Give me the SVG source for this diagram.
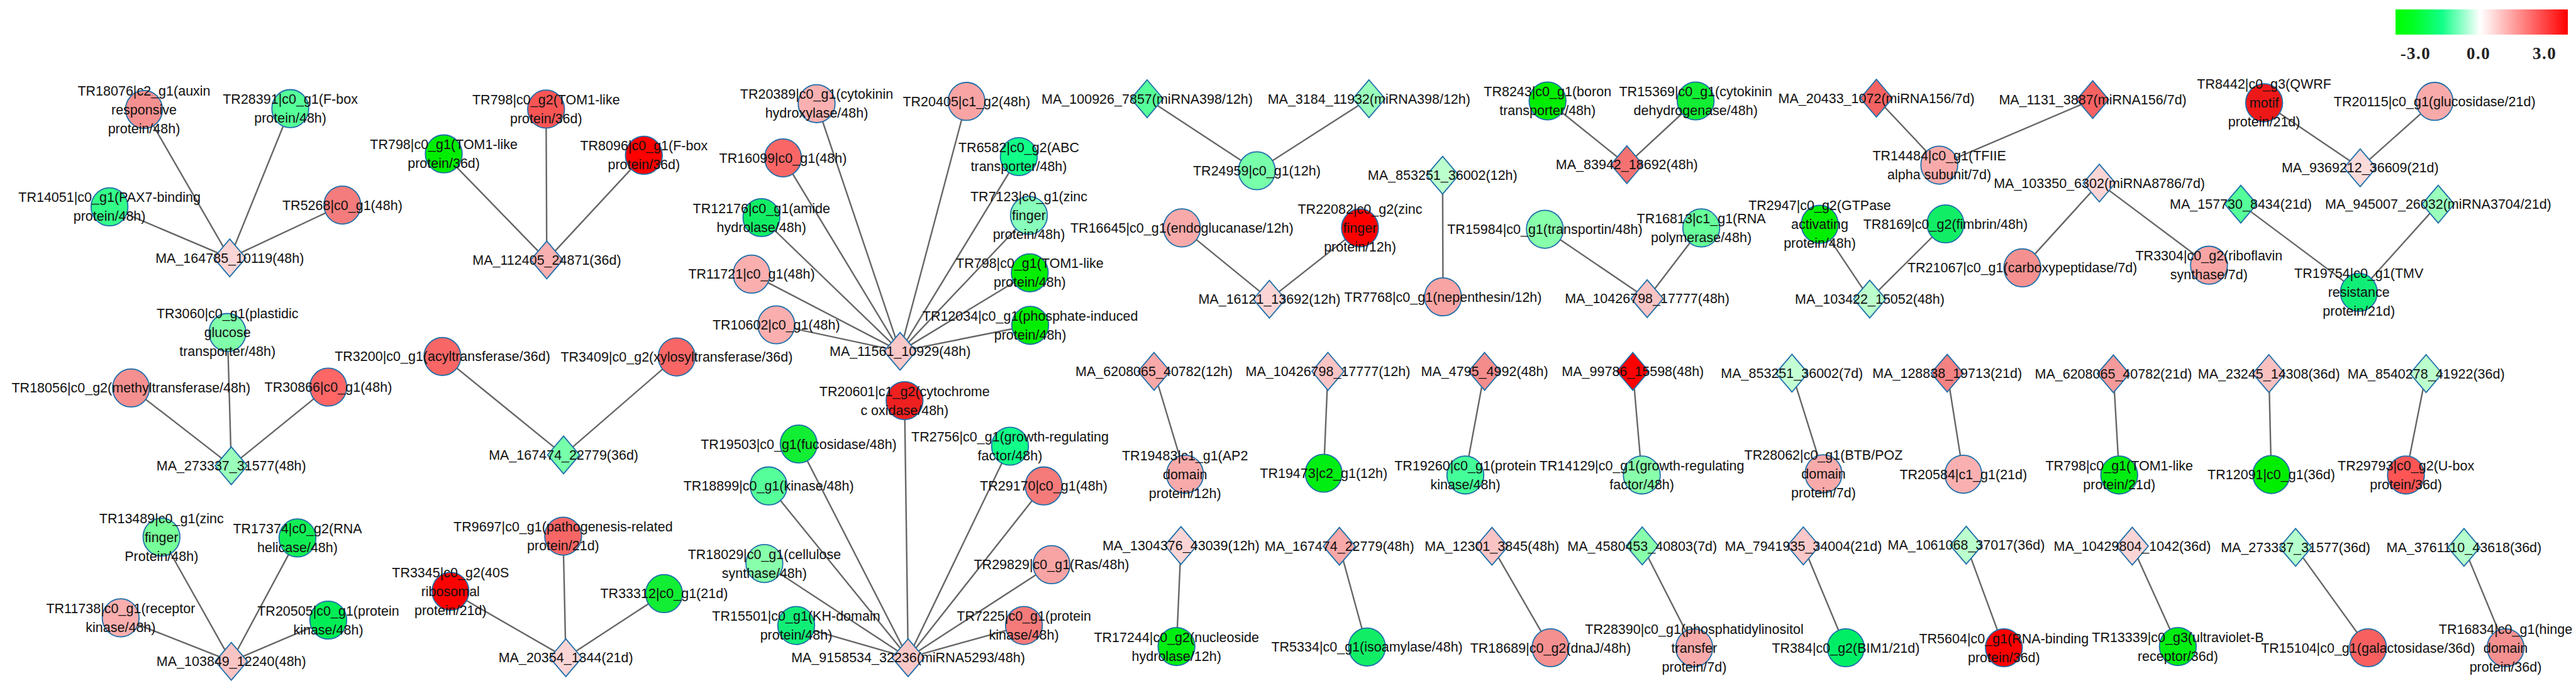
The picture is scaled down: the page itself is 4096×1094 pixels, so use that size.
<svg xmlns="http://www.w3.org/2000/svg" xmlns:xlink="http://www.w3.org/1999/xlink" width="4096" height="1094" viewBox="0 0 4096 1094">
<style>
.t{font-family:"Liberation Sans",Arial,sans-serif;font-size:21.5px;text-anchor:middle;fill:#111}
.e line{stroke:#666;stroke-width:2.4;stroke-linecap:round}
.lg{font-family:"Liberation Serif","Times New Roman",serif;font-weight:bold;font-size:27px;text-anchor:middle;fill:#222;letter-spacing:1.5px}
</style>
<defs>
<ellipse id="cir" cx="0" cy="0" rx="29.3" ry="30.2" stroke="#1E6FAA" stroke-width="1.8"/>
<path id="dia" d="M0,-30 L25.6,0 L0,30 L-25.6,0Z" stroke="#1E6FAA" stroke-width="1.8"/>
<linearGradient id="grad" x1="0" y1="0" x2="1" y2="0">
<stop offset="0" stop-color="#00FF00"/>
<stop offset="0.1" stop-color="#00FF22"/>
<stop offset="0.27" stop-color="#11FF88"/>
<stop offset="0.49" stop-color="#FFFFFF"/>
<stop offset="0.52" stop-color="#FFF2F2"/>
<stop offset="1" stop-color="#FF0000"/>
</linearGradient>
</defs>
<rect width="4096" height="1094" fill="#fff"/>
<g id="legend">
<rect x="3809" y="15" width="274" height="40" fill="url(#grad)"/>
<text class="lg" x="3841" y="94">-3.0</text>
<text class="lg" x="3941" y="94">0.0</text>
<text class="lg" x="4046" y="94">3.0</text>
</g>
<g id="edges" class="e">
<line x1="365.3" y1="410.2" x2="229.0" y2="174.1"/>
<line x1="365.3" y1="410.2" x2="461.6" y2="172.7"/>
<line x1="365.3" y1="410.2" x2="174.1" y2="328.9"/>
<line x1="365.3" y1="410.2" x2="544.4" y2="326.1"/>
<line x1="367.8" y1="740.6" x2="361.7" y2="528.7"/>
<line x1="367.8" y1="740.6" x2="208.3" y2="616.9"/>
<line x1="367.8" y1="740.6" x2="522.0" y2="615.5"/>
<line x1="367.8" y1="1051.6" x2="256.8" y2="854.0"/>
<line x1="367.8" y1="1051.6" x2="473.0" y2="855.4"/>
<line x1="367.8" y1="1051.6" x2="191.9" y2="982.4"/>
<line x1="367.8" y1="1051.6" x2="522.0" y2="986.0"/>
<line x1="869.4" y1="413.4" x2="705.6" y2="244.7"/>
<line x1="869.4" y1="413.4" x2="868.3" y2="173.4"/>
<line x1="869.4" y1="413.4" x2="1023.8" y2="246.9"/>
<line x1="896.1" y1="723.4" x2="703.5" y2="566.8"/>
<line x1="896.1" y1="723.4" x2="1075.9" y2="567.6"/>
<line x1="899.7" y1="1045.9" x2="895.4" y2="852.6"/>
<line x1="899.7" y1="1045.9" x2="716.3" y2="940.3"/>
<line x1="899.7" y1="1045.9" x2="1055.9" y2="943.9"/>
<line x1="1431.2" y1="558.6" x2="1298.5" y2="164.8"/>
<line x1="1431.2" y1="558.6" x2="1245.0" y2="251.1"/>
<line x1="1431.2" y1="558.6" x2="1210.7" y2="346.0"/>
<line x1="1431.2" y1="558.6" x2="1195.0" y2="435.9"/>
<line x1="1431.2" y1="558.6" x2="1234.3" y2="516.5"/>
<line x1="1431.2" y1="558.6" x2="1536.8" y2="161.2"/>
<line x1="1431.2" y1="558.6" x2="1620.0" y2="249.0"/>
<line x1="1431.2" y1="558.6" x2="1636.0" y2="342.5"/>
<line x1="1431.2" y1="558.6" x2="1637.4" y2="433.8"/>
<line x1="1431.2" y1="558.6" x2="1638.1" y2="517.3"/>
<line x1="1444.0" y1="1045.9" x2="1438.3" y2="637.1"/>
<line x1="1444.0" y1="1045.9" x2="1270.0" y2="706.0"/>
<line x1="1444.0" y1="1045.9" x2="1222.2" y2="772.7"/>
<line x1="1444.0" y1="1045.9" x2="1215.4" y2="896.1"/>
<line x1="1444.0" y1="1045.9" x2="1266.0" y2="994.6"/>
<line x1="1444.0" y1="1045.9" x2="1606.0" y2="709.5"/>
<line x1="1444.0" y1="1045.9" x2="1659.5" y2="772.7"/>
<line x1="1444.0" y1="1045.9" x2="1672.0" y2="897.9"/>
<line x1="1444.0" y1="1045.9" x2="1628.1" y2="994.6"/>
<line x1="1824.0" y1="157.0" x2="1998.4" y2="271.5"/>
<line x1="2176.8" y1="157.0" x2="1998.4" y2="271.5"/>
<line x1="2018.4" y1="475.9" x2="1879.3" y2="362.4"/>
<line x1="2018.4" y1="475.9" x2="2162.5" y2="362.4"/>
<line x1="2293.8" y1="278.6" x2="2294.5" y2="472.0"/>
<line x1="2586.8" y1="261.8" x2="2460.7" y2="160.5"/>
<line x1="2586.8" y1="261.8" x2="2696.2" y2="160.5"/>
<line x1="2619.1" y1="474.9" x2="2456.4" y2="364.6"/>
<line x1="2619.1" y1="474.9" x2="2705.1" y2="362.4"/>
<line x1="2983.6" y1="156.2" x2="3083.6" y2="262.6"/>
<line x1="3327.6" y1="158.4" x2="3083.6" y2="262.6"/>
<line x1="2973.0" y1="475.6" x2="2893.5" y2="356.7"/>
<line x1="2973.0" y1="475.6" x2="3093.4" y2="356.0"/>
<line x1="3338.1" y1="291.1" x2="3215.6" y2="425.9"/>
<line x1="3338.1" y1="291.1" x2="3512.4" y2="421.7"/>
<line x1="3752.8" y1="266.8" x2="3600.1" y2="163.4"/>
<line x1="3752.8" y1="266.8" x2="3871.2" y2="161.2"/>
<line x1="3563.0" y1="324.6" x2="3750.7" y2="464.9"/>
<line x1="3876.9" y1="324.6" x2="3750.7" y2="464.9"/>
<line x1="1835.0" y1="590.5" x2="1884.2" y2="754.1"/>
<line x1="2111.5" y1="590.5" x2="2104.7" y2="752.5"/>
<line x1="2360.6" y1="590.5" x2="2330.0" y2="755.3"/>
<line x1="2596.3" y1="590.5" x2="2610.6" y2="755.3"/>
<line x1="2849.3" y1="593.3" x2="2899.5" y2="753.4"/>
<line x1="3096.2" y1="593.3" x2="3121.8" y2="754.1"/>
<line x1="3360.4" y1="594.3" x2="3369.7" y2="755.3"/>
<line x1="3607.7" y1="594.0" x2="3611.5" y2="754.6"/>
<line x1="3857.7" y1="594.0" x2="3825.6" y2="755.3"/>
<line x1="1877.8" y1="867.3" x2="1870.7" y2="1028.1"/>
<line x1="2129.7" y1="868.7" x2="2173.6" y2="1028.8"/>
<line x1="2372.3" y1="868.7" x2="2465.4" y2="1030.0"/>
<line x1="2611.3" y1="868.0" x2="2694.0" y2="1030.0"/>
<line x1="2867.4" y1="868.0" x2="2934.9" y2="1030.0"/>
<line x1="3126.4" y1="866.9" x2="3186.3" y2="1030.0"/>
<line x1="3390.4" y1="868.3" x2="3462.9" y2="1028.1"/>
<line x1="3650.1" y1="870.4" x2="3765.3" y2="1030.0"/>
<line x1="3917.9" y1="870.4" x2="3984.0" y2="1030.0"/>
</g>
<g id="n1"><use href="#cir" x="229.0" y="174.1" fill="#F59090"/><text class="t" x="229.0" y="151.6">TR18076|c2_g1(auxin<tspan x="229.0" dy="30">responsive</tspan><tspan x="229.0" dy="30">protein/48h)</tspan></text></g>
<g id="n2"><use href="#cir" x="461.6" y="172.7" fill="#55FF99"/><text class="t" x="461.6" y="165.2">TR28391|c0_g1(F-box<tspan x="461.6" dy="30">protein/48h)</tspan></text></g>
<g id="n3"><use href="#cir" x="174.1" y="328.9" fill="#33FF88"/><text class="t" x="174.1" y="321.4">TR14051|c0_g1(PAX7-binding<tspan x="174.1" dy="30">protein/48h)</tspan></text></g>
<g id="n4"><use href="#cir" x="544.4" y="326.1" fill="#F47C7C"/><text class="t" x="544.4" y="333.6">TR5268|c0_g1(48h)</text></g>
<g id="n5"><use href="#dia" x="365.3" y="410.2" fill="#FBD5D5"/><text class="t" x="365.3" y="417.7">MA_164785_10119(48h)</text></g>
<g id="n6"><use href="#cir" x="361.7" y="528.7" fill="#80FFAA"/><text class="t" x="361.7" y="506.2">TR3060|c0_g1(plastidic<tspan x="361.7" dy="30">glucose</tspan><tspan x="361.7" dy="30">transporter/48h)</tspan></text></g>
<g id="n7"><use href="#cir" x="208.3" y="616.9" fill="#F59090"/><text class="t" x="208.3" y="624.4">TR18056|c0_g2(methyltransferase/48h)</text></g>
<g id="n8"><use href="#cir" x="522.0" y="615.5" fill="#FF6666"/><text class="t" x="522.0" y="623.0">TR30866|c0_g1(48h)</text></g>
<g id="n9"><use href="#dia" x="367.8" y="740.6" fill="#99FFBB"/><text class="t" x="367.8" y="748.1">MA_273337_31577(48h)</text></g>
<g id="n10"><use href="#cir" x="256.8" y="854.0" fill="#77FF99"/><text class="t" x="256.8" y="831.5">TR13489|c0_g1(zinc<tspan x="256.8" dy="30">finger</tspan><tspan x="256.8" dy="30">Protein/48h)</tspan></text></g>
<g id="n11"><use href="#cir" x="473.0" y="855.4" fill="#11EE55"/><text class="t" x="473.0" y="847.9">TR17374|c0_g2(RNA<tspan x="473.0" dy="30">helicase/48h)</tspan></text></g>
<g id="n12"><use href="#cir" x="191.9" y="982.4" fill="#FAAEAE"/><text class="t" x="191.9" y="974.9">TR11738|c0_g1(receptor<tspan x="191.9" dy="30">kinase/48h)</tspan></text></g>
<g id="n13"><use href="#cir" x="522.0" y="986.0" fill="#00EE55"/><text class="t" x="522.0" y="978.5">TR20505|c0_g1(protein<tspan x="522.0" dy="30">kinase/48h)</tspan></text></g>
<g id="n14"><use href="#dia" x="367.8" y="1051.6" fill="#FAC4C4"/><text class="t" x="367.8" y="1059.1">MA_103849_12240(48h)</text></g>
<g id="n15"><use href="#cir" x="705.6" y="244.7" fill="#00EE00"/><text class="t" x="705.6" y="237.2">TR798|c0_g1(TOM1-like<tspan x="705.6" dy="30">protein/36d)</tspan></text></g>
<g id="n16"><use href="#cir" x="868.3" y="173.4" fill="#FA5555"/><text class="t" x="868.3" y="165.9">TR798|c0_g2(TOM1-like<tspan x="868.3" dy="30">protein/36d)</tspan></text></g>
<g id="n17"><use href="#cir" x="1023.8" y="246.9" fill="#FF0000"/><text class="t" x="1023.8" y="239.4">TR8096|c0_g1(F-box<tspan x="1023.8" dy="30">protein/36d)</tspan></text></g>
<g id="n18"><use href="#dia" x="869.4" y="413.4" fill="#F9B0B0"/><text class="t" x="869.4" y="420.9">MA_112405_24871(36d)</text></g>
<g id="n19"><use href="#cir" x="703.5" y="566.8" fill="#F86666"/><text class="t" x="703.5" y="574.3">TR3200|c0_g1(acyltransferase/36d)</text></g>
<g id="n20"><use href="#cir" x="1075.9" y="567.6" fill="#F86666"/><text class="t" x="1075.9" y="575.1">TR3409|c0_g2(xylosyltransferase/36d)</text></g>
<g id="n21"><use href="#dia" x="896.1" y="723.4" fill="#77FFAA"/><text class="t" x="896.1" y="730.9">MA_167474_22779(36d)</text></g>
<g id="n22"><use href="#cir" x="895.4" y="852.6" fill="#F86666"/><text class="t" x="895.4" y="845.1">TR9697|c0_g1(pathogenesis-related<tspan x="895.4" dy="30">protein/21d)</tspan></text></g>
<g id="n23"><use href="#cir" x="716.3" y="940.3" fill="#FF0000"/><text class="t" x="716.3" y="917.8">TR3345|c0_g2(40S<tspan x="716.3" dy="30">ribosomal</tspan><tspan x="716.3" dy="30">protein/21d)</tspan></text></g>
<g id="n24"><use href="#cir" x="1055.9" y="943.9" fill="#11EE33"/><text class="t" x="1055.9" y="951.4">TR33312|c0_g1(21d)</text></g>
<g id="n25"><use href="#dia" x="899.7" y="1045.9" fill="#FBD5D5"/><text class="t" x="899.7" y="1053.4">MA_20354_1344(21d)</text></g>
<g id="n26"><use href="#cir" x="1298.5" y="164.8" fill="#FAB0B0"/><text class="t" x="1298.5" y="157.3">TR20389|c0_g1(cytokinin<tspan x="1298.5" dy="30">hydroxylase/48h)</tspan></text></g>
<g id="n27"><use href="#cir" x="1245.0" y="251.1" fill="#FA6666"/><text class="t" x="1245.0" y="258.6">TR16099|c0_g1(48h)</text></g>
<g id="n28"><use href="#cir" x="1210.7" y="346.0" fill="#11EE66"/><text class="t" x="1210.7" y="338.5">TR12176|c0_g1(amide<tspan x="1210.7" dy="30">hydrolase/48h)</tspan></text></g>
<g id="n29"><use href="#cir" x="1195.0" y="435.9" fill="#FAAEAE"/><text class="t" x="1195.0" y="443.4">TR11721|c0_g1(48h)</text></g>
<g id="n30"><use href="#cir" x="1234.3" y="516.5" fill="#FAAEAE"/><text class="t" x="1234.3" y="524.0">TR10602|c0_g1(48h)</text></g>
<g id="n31"><use href="#cir" x="1536.8" y="161.2" fill="#F8A4A4"/><text class="t" x="1536.8" y="168.7">TR20405|c1_g2(48h)</text></g>
<g id="n32"><use href="#cir" x="1620.0" y="249.0" fill="#11FF88"/><text class="t" x="1620.0" y="241.5">TR6582|c0_g2(ABC<tspan x="1620.0" dy="30">transporter/48h)</tspan></text></g>
<g id="n33"><use href="#cir" x="1636.0" y="342.5" fill="#88FFBB"/><text class="t" x="1636.0" y="320.0">TR7123|c0_g1(zinc<tspan x="1636.0" dy="30">finger</tspan><tspan x="1636.0" dy="30">protein/48h)</tspan></text></g>
<g id="n34"><use href="#cir" x="1637.4" y="433.8" fill="#00EE00"/><text class="t" x="1637.4" y="426.3">TR798|c0_g1(TOM1-like<tspan x="1637.4" dy="30">protein/48h)</tspan></text></g>
<g id="n35"><use href="#cir" x="1638.1" y="517.3" fill="#00EE00"/><text class="t" x="1638.1" y="509.8">TR12034|c0_g1(phosphate-induced<tspan x="1638.1" dy="30">protein/48h)</tspan></text></g>
<g id="n36"><use href="#dia" x="1431.2" y="558.6" fill="#FAC8C8"/><text class="t" x="1431.2" y="566.1">MA_11561_10929(48h)</text></g>
<g id="n37"><use href="#cir" x="1438.3" y="637.1" fill="#EE2020"/><text class="t" x="1438.3" y="629.6">TR20601|c1_g2(cytochrome<tspan x="1438.3" dy="30">c oxidase/48h)</tspan></text></g>
<g id="n38"><use href="#cir" x="1270.0" y="706.0" fill="#11EE33"/><text class="t" x="1270.0" y="713.5">TR19503|c0_g1(fucosidase/48h)</text></g>
<g id="n39"><use href="#cir" x="1222.2" y="772.7" fill="#55FF99"/><text class="t" x="1222.2" y="780.2">TR18899|c0_g1(kinase/48h)</text></g>
<g id="n40"><use href="#cir" x="1215.4" y="896.1" fill="#88FFAA"/><text class="t" x="1215.4" y="888.6">TR18029|c0_g1(cellulose<tspan x="1215.4" dy="30">synthase/48h)</tspan></text></g>
<g id="n41"><use href="#cir" x="1266.0" y="994.6" fill="#11EE77"/><text class="t" x="1266.0" y="987.1">TR15501|c0_g1(KH-domain<tspan x="1266.0" dy="30">protein/48h)</tspan></text></g>
<g id="n42"><use href="#cir" x="1606.0" y="709.5" fill="#11FF88"/><text class="t" x="1606.0" y="702.0">TR2756|c0_g1(growth-regulating<tspan x="1606.0" dy="30">factor/48h)</tspan></text></g>
<g id="n43"><use href="#cir" x="1659.5" y="772.7" fill="#F57A7A"/><text class="t" x="1659.5" y="780.2">TR29170|c0_g1(48h)</text></g>
<g id="n44"><use href="#cir" x="1672.0" y="897.9" fill="#F8A4A4"/><text class="t" x="1672.0" y="905.4">TR29829|c0_g1(Ras/48h)</text></g>
<g id="n45"><use href="#cir" x="1628.1" y="994.6" fill="#F57A7A"/><text class="t" x="1628.1" y="987.1">TR7225|c0_g1(protein<tspan x="1628.1" dy="30">kinase/48h)</tspan></text></g>
<g id="n46"><use href="#dia" x="1444.0" y="1045.9" fill="#FAC8C8"/><text class="t" x="1444.0" y="1053.4">MA_9158534_32236(miRNA5293/48h)</text></g>
<g id="n47"><use href="#dia" x="1824.0" y="157.0" fill="#55FF99"/><text class="t" x="1824.0" y="164.5">MA_100926_7857(miRNA398/12h)</text></g>
<g id="n48"><use href="#cir" x="1998.4" y="271.5" fill="#77FFAA"/><text class="t" x="1998.4" y="279.0">TR24959|c0_g1(12h)</text></g>
<g id="n49"><use href="#dia" x="2176.8" y="157.0" fill="#99FFBB"/><text class="t" x="2176.8" y="164.5">MA_3184_11932(miRNA398/12h)</text></g>
<g id="n50"><use href="#cir" x="1879.3" y="362.4" fill="#F8AAAA"/><text class="t" x="1879.3" y="369.9">TR16645|c0_g1(endoglucanase/12h)</text></g>
<g id="n51"><use href="#dia" x="2018.4" y="475.9" fill="#FBD5D5"/><text class="t" x="2018.4" y="483.4">MA_16121_13692(12h)</text></g>
<g id="n52"><use href="#cir" x="2162.5" y="362.4" fill="#FF0000"/><text class="t" x="2162.5" y="339.9">TR22082|c0_g2(zinc<tspan x="2162.5" dy="30">finger</tspan><tspan x="2162.5" dy="30">protein/12h)</tspan></text></g>
<g id="n53"><use href="#dia" x="2293.8" y="278.6" fill="#BBFFCC"/><text class="t" x="2293.8" y="286.1">MA_853251_36002(12h)</text></g>
<g id="n54"><use href="#cir" x="2294.5" y="472.0" fill="#F8A4A4"/><text class="t" x="2294.5" y="479.5">TR7768|c0_g1(nepenthesin/12h)</text></g>
<g id="n55"><use href="#cir" x="2460.7" y="160.5" fill="#00EE00"/><text class="t" x="2460.7" y="153.0">TR8243|c0_g1(boron<tspan x="2460.7" dy="30">transporter/48h)</tspan></text></g>
<g id="n56"><use href="#cir" x="2696.2" y="160.5" fill="#11EE33"/><text class="t" x="2696.2" y="153.0">TR15369|c0_g1(cytokinin<tspan x="2696.2" dy="30">dehydrogenase/48h)</tspan></text></g>
<g id="n57"><use href="#dia" x="2586.8" y="261.8" fill="#F47272"/><text class="t" x="2586.8" y="269.3">MA_83942_18692(48h)</text></g>
<g id="n58"><use href="#cir" x="2456.4" y="364.6" fill="#88FFAA"/><text class="t" x="2456.4" y="372.1">TR15984|c0_g1(transportin/48h)</text></g>
<g id="n59"><use href="#cir" x="2705.1" y="362.4" fill="#66FF99"/><text class="t" x="2705.1" y="354.9">TR16813|c1_g1(RNA<tspan x="2705.1" dy="30">polymerase/48h)</tspan></text></g>
<g id="n60"><use href="#dia" x="2619.1" y="474.9" fill="#FAC4C4"/><text class="t" x="2619.1" y="482.4">MA_10426798_17777(48h)</text></g>
<g id="n61"><use href="#dia" x="2983.6" y="156.2" fill="#F46262"/><text class="t" x="2983.6" y="163.7">MA_20433_1072(miRNA156/7d)</text></g>
<g id="n62"><use href="#dia" x="3327.6" y="158.4" fill="#F46262"/><text class="t" x="3327.6" y="165.9">MA_1131_3887(miRNA156/7d)</text></g>
<g id="n63"><use href="#cir" x="3083.6" y="262.6" fill="#F8AAAA"/><text class="t" x="3083.6" y="255.1">TR14484|c0_g1(TFIIE<tspan x="3083.6" dy="30">alpha subunit/7d)</tspan></text></g>
<g id="n64"><use href="#dia" x="3338.1" y="291.1" fill="#FBD5D5"/><text class="t" x="3338.1" y="298.6">MA_103350_6302(miRNA8786/7d)</text></g>
<g id="n65"><use href="#cir" x="2893.5" y="356.7" fill="#00EE00"/><text class="t" x="2893.5" y="334.2">TR2947|c0_g2(GTPase<tspan x="2893.5" dy="30">activating</tspan><tspan x="2893.5" dy="30">protein/48h)</tspan></text></g>
<g id="n66"><use href="#cir" x="3093.4" y="356.0" fill="#11EE66"/><text class="t" x="3093.4" y="363.5">TR8169|c0_g2(fimbrin/48h)</text></g>
<g id="n67"><use href="#dia" x="2973.0" y="475.6" fill="#BBFFCC"/><text class="t" x="2973.0" y="483.1">MA_103422_15052(48h)</text></g>
<g id="n68"><use href="#cir" x="3215.6" y="425.9" fill="#F49090"/><text class="t" x="3215.6" y="433.4">TR21067|c0_g1(carboxypeptidase/7d)</text></g>
<g id="n69"><use href="#cir" x="3600.1" y="163.4" fill="#EE1818"/><text class="t" x="3600.1" y="140.9">TR8442|c0_g3(QWRF<tspan x="3600.1" dy="30">motif</tspan><tspan x="3600.1" dy="30">protein/21d)</tspan></text></g>
<g id="n70"><use href="#cir" x="3871.2" y="161.2" fill="#F8AAAA"/><text class="t" x="3871.2" y="168.7">TR20115|c0_g1(glucosidase/21d)</text></g>
<g id="n71"><use href="#dia" x="3752.8" y="266.8" fill="#FBDADA"/><text class="t" x="3752.8" y="274.3">MA_9369212_36609(21d)</text></g>
<g id="n72"><use href="#dia" x="3563.0" y="324.6" fill="#55FF99"/><text class="t" x="3563.0" y="332.1">MA_157730_8434(21d)</text></g>
<g id="n73"><use href="#dia" x="3876.9" y="324.6" fill="#99FFBB"/><text class="t" x="3876.9" y="332.1">MA_945007_26032(miRNA3704/21d)</text></g>
<g id="n74"><use href="#cir" x="3512.4" y="421.7" fill="#F8A4A4"/><text class="t" x="3512.4" y="414.2">TR3304|c0_g2(riboflavin<tspan x="3512.4" dy="30">synthase/7d)</tspan></text></g>
<g id="n75"><use href="#cir" x="3750.7" y="464.9" fill="#11EE77"/><text class="t" x="3750.7" y="442.4">TR19754|c0_g1(TMV<tspan x="3750.7" dy="30">resistance</tspan><tspan x="3750.7" dy="30">protein/21d)</tspan></text></g>
<g id="n76"><use href="#dia" x="1835.0" y="590.5" fill="#F8A8A8"/><text class="t" x="1835.0" y="598.0">MA_6208065_40782(12h)</text></g>
<g id="n77"><use href="#cir" x="1884.2" y="754.1" fill="#F8AAAA"/><text class="t" x="1884.2" y="731.6">TR19483|c1_g1(AP2<tspan x="1884.2" dy="30">domain</tspan><tspan x="1884.2" dy="30">protein/12h)</tspan></text></g>
<g id="n78"><use href="#dia" x="2111.5" y="590.5" fill="#FAC4C4"/><text class="t" x="2111.5" y="598.0">MA_10426798_17777(12h)</text></g>
<g id="n79"><use href="#cir" x="2104.7" y="752.5" fill="#00EE11"/><text class="t" x="2104.7" y="760.0">TR19473|c2_g1(12h)</text></g>
<g id="n80"><use href="#dia" x="2360.6" y="590.5" fill="#F48C8C"/><text class="t" x="2360.6" y="598.0">MA_4795_4992(48h)</text></g>
<g id="n81"><use href="#cir" x="2330.0" y="755.3" fill="#44FF99"/><text class="t" x="2330.0" y="747.8">TR19260|c0_g1(protein<tspan x="2330.0" dy="30">kinase/48h)</tspan></text></g>
<g id="n82"><use href="#dia" x="2596.3" y="590.5" fill="#FF0000"/><text class="t" x="2596.3" y="598.0">MA_99786_15598(48h)</text></g>
<g id="n83"><use href="#cir" x="2610.6" y="755.3" fill="#88FFAA"/><text class="t" x="2610.6" y="747.8">TR14129|c0_g1(growth-regulating<tspan x="2610.6" dy="30">factor/48h)</tspan></text></g>
<g id="n84"><use href="#dia" x="2849.3" y="593.3" fill="#C4FFD4"/><text class="t" x="2849.3" y="600.8">MA_853251_36002(7d)</text></g>
<g id="n85"><use href="#cir" x="2899.5" y="753.4" fill="#F8AAAA"/><text class="t" x="2899.5" y="730.9">TR28062|c0_g1(BTB/POZ<tspan x="2899.5" dy="30">domain</tspan><tspan x="2899.5" dy="30">protein/7d)</tspan></text></g>
<g id="n86"><use href="#dia" x="3096.2" y="593.3" fill="#F48282"/><text class="t" x="3096.2" y="600.8">MA_128838_19713(21d)</text></g>
<g id="n87"><use href="#cir" x="3121.8" y="754.1" fill="#FAB0B0"/><text class="t" x="3121.8" y="761.6">TR20584|c1_g1(21d)</text></g>
<g id="n88"><use href="#dia" x="3360.4" y="594.3" fill="#F49A9A"/><text class="t" x="3360.4" y="601.8">MA_6208065_40782(21d)</text></g>
<g id="n89"><use href="#cir" x="3369.7" y="755.3" fill="#00EE11"/><text class="t" x="3369.7" y="747.8">TR798|c0_g1(TOM1-like<tspan x="3369.7" dy="30">protein/21d)</tspan></text></g>
<g id="n90"><use href="#dia" x="3607.7" y="594.0" fill="#FAC0C0"/><text class="t" x="3607.7" y="601.5">MA_23245_14308(36d)</text></g>
<g id="n91"><use href="#cir" x="3611.5" y="754.6" fill="#00EE00"/><text class="t" x="3611.5" y="762.1">TR12091|c0_g1(36d)</text></g>
<g id="n92"><use href="#dia" x="3857.7" y="594.0" fill="#BBFFCC"/><text class="t" x="3857.7" y="601.5">MA_8540278_41922(36d)</text></g>
<g id="n93"><use href="#cir" x="3825.6" y="755.3" fill="#FF5555"/><text class="t" x="3825.6" y="747.8">TR29793|c0_g2(U-box<tspan x="3825.6" dy="30">protein/36d)</tspan></text></g>
<g id="n94"><use href="#dia" x="1877.8" y="867.3" fill="#FBD5D5"/><text class="t" x="1877.8" y="874.8">MA_1304376_43039(12h)</text></g>
<g id="n95"><use href="#cir" x="1870.7" y="1028.1" fill="#00EE11"/><text class="t" x="1870.7" y="1020.6">TR17244|c0_g2(nucleoside<tspan x="1870.7" dy="30">hydrolase/12h)</tspan></text></g>
<g id="n96"><use href="#dia" x="2129.7" y="868.7" fill="#F8A8A8"/><text class="t" x="2129.7" y="876.2">MA_167474_22779(48h)</text></g>
<g id="n97"><use href="#cir" x="2173.6" y="1028.8" fill="#11EE66"/><text class="t" x="2173.6" y="1036.3">TR5334|c0_g1(isoamylase/48h)</text></g>
<g id="n98"><use href="#dia" x="2372.3" y="868.7" fill="#FAC4C4"/><text class="t" x="2372.3" y="876.2">MA_12301_3845(48h)</text></g>
<g id="n99"><use href="#cir" x="2465.4" y="1030.0" fill="#F49090"/><text class="t" x="2465.4" y="1037.5">TR18689|c0_g2(dnaJ/48h)</text></g>
<g id="n100"><use href="#dia" x="2611.3" y="868.0" fill="#88FFAA"/><text class="t" x="2611.3" y="875.5">MA_4580453_40803(7d)</text></g>
<g id="n101"><use href="#cir" x="2694.0" y="1030.0" fill="#F8AAAA"/><text class="t" x="2694.0" y="1007.5">TR28390|c0_g1(phosphatidylinositol<tspan x="2694.0" dy="30">transfer</tspan><tspan x="2694.0" dy="30">protein/7d)</tspan></text></g>
<g id="n102"><use href="#dia" x="2867.4" y="868.0" fill="#FAC8C8"/><text class="t" x="2867.4" y="875.5">MA_7941935_34004(21d)</text></g>
<g id="n103"><use href="#cir" x="2934.9" y="1030.0" fill="#00EE66"/><text class="t" x="2934.9" y="1037.5">TR384|c0_g2(BIM1/21d)</text></g>
<g id="n104"><use href="#dia" x="3126.4" y="866.9" fill="#BBFFCC"/><text class="t" x="3126.4" y="874.4">MA_1061068_37017(36d)</text></g>
<g id="n105"><use href="#cir" x="3186.3" y="1030.0" fill="#FF0000"/><text class="t" x="3186.3" y="1022.5">TR5604|c0_g1(RNA-binding<tspan x="3186.3" dy="30">protein/36d)</tspan></text></g>
<g id="n106"><use href="#dia" x="3390.4" y="868.3" fill="#FBD5D5"/><text class="t" x="3390.4" y="875.8">MA_10429804_1042(36d)</text></g>
<g id="n107"><use href="#cir" x="3462.9" y="1028.1" fill="#00EE11"/><text class="t" x="3462.9" y="1020.6">TR13339|c0_g3(ultraviolet-B<tspan x="3462.9" dy="30">receptor/36d)</tspan></text></g>
<g id="n108"><use href="#dia" x="3650.1" y="870.4" fill="#B4FFCC"/><text class="t" x="3650.1" y="877.9">MA_273337_31577(36d)</text></g>
<g id="n109"><use href="#cir" x="3765.3" y="1030.0" fill="#F86060"/><text class="t" x="3765.3" y="1037.5">TR15104|c0_g1(galactosidase/36d)</text></g>
<g id="n110"><use href="#dia" x="3917.9" y="870.4" fill="#B4FFCC"/><text class="t" x="3917.9" y="877.9">MA_3761110_43618(36d)</text></g>
<g id="n111"><use href="#cir" x="3984.0" y="1030.0" fill="#F49090"/><text class="t" x="3984.0" y="1007.5">TR16834|c0_g1(hinge<tspan x="3984.0" dy="30">domain</tspan><tspan x="3984.0" dy="30">protein/36d)</tspan></text></g>
</svg>
